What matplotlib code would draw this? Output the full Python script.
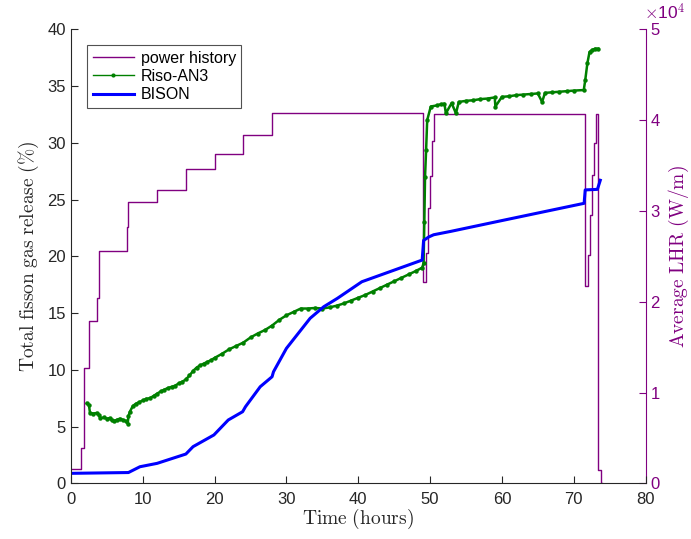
import matplotlib
matplotlib.use("Agg")
import matplotlib.pyplot as plt

plt.rcParams['mathtext.fontset'] = 'cm'
plt.rcParams['font.family'] = ['Liberation Sans', 'DejaVu Sans']

# ---- data ----
power_t = [0, 1.35, 1.86, 2.56, 3.58, 3.86, 3.95, 7.85, 8.0, 11.95, 16.0, 20.0, 24.0, 28.0,
           49.05, 49.5, 49.7, 49.95, 50.2, 50.5,
           71.6, 72.05, 72.3, 72.6, 72.85, 73.1, 73.45, 73.8, 74.0]
power_lhr = [1540, 3930, 12680, 17890, 20460, 23220, 25540, 28180, 30940, 32340, 34650, 36270, 38400, 40790,
             22120, 25360, 30320, 33800, 37660, 40720,
             21680, 25170, 29580, 33990, 37490, 40720, 1470, 0, 0]

riso_t = [2.2, 2.5, 2.65, 3.1, 3.6, 3.95, 4.1, 4.6, 5.0, 5.4, 5.7, 6.0, 6.4, 6.8, 7.2, 7.6, 7.9,
          8.0, 8.2, 8.6, 9.0, 9.5, 10.0, 10.5, 11.0, 11.5, 12.0, 12.5, 13.0, 13.5, 14.0, 14.5,
          15.0, 15.5, 16.0, 16.5, 17.0, 17.5, 18.0, 18.5, 19.0, 19.5, 20.0, 21.0, 22.0, 23.0,
          24.0, 25.0, 26.0, 27.0, 28.0, 29.0, 30.0, 31.0, 32.0, 33.0, 34.0, 35.0, 36.0, 37.0,
          38.0, 39.0, 40.0, 41.0, 42.0, 43.0, 44.0, 45.0, 46.0, 47.0, 48.0, 48.9, 49.1, 49.2,
          49.3, 49.45, 49.6, 50.1, 51.0, 51.5, 52.0, 52.2, 53.0, 53.6, 54.0, 55.0, 56.0, 57.0,
          58.0, 59.0, 59.1, 60.0, 61.0, 62.0, 63.0, 64.0, 65.0, 65.6, 66.0, 67.0, 68.0, 69.0,
          70.0, 71.4, 71.6, 71.9, 72.2, 72.6, 73.0, 73.4]
riso_fgr = [7.05, 6.9, 6.2, 6.15, 6.2, 6.0, 5.75, 5.8, 5.7, 5.75, 5.55, 5.5, 5.6, 5.7, 5.6, 5.5, 5.25,
            5.9, 6.3, 6.8, 7.0, 7.15, 7.3, 7.45, 7.5, 7.7, 7.9, 8.1, 8.25, 8.4, 8.5, 8.6,
            8.8, 8.95, 9.15, 9.5, 9.9, 10.2, 10.4, 10.55, 10.7, 10.85, 11.05, 11.4, 11.8, 12.1,
            12.4, 12.85, 13.2, 13.5, 13.9, 14.4, 14.8, 15.1, 15.4, 15.4, 15.45, 15.4, 15.5, 15.65,
            15.85, 16.1, 16.35, 16.6, 16.9, 17.2, 17.5, 17.8, 18.1, 18.4, 18.7, 19.0, 19.4, 23.0,
            27.0, 29.4, 32.0, 33.2, 33.3, 33.4, 33.45, 32.6, 33.5, 32.6, 33.6, 33.7, 33.75, 33.85,
            33.9, 34.0, 33.2, 34.05, 34.1, 34.2, 34.25, 34.3, 34.35, 33.6, 34.4, 34.45, 34.5, 34.55,
            34.6, 34.65, 35.5, 37.0, 38.0, 38.2, 38.3, 38.3]

bison_t = [0, 8.0, 9.6, 12.0, 16.0, 17.0, 19.9, 21.9, 23.9, 24.3, 26.35, 28.0, 28.2, 30.0, 33.3,
           35.2, 37.1, 40.5, 48.9, 49.1, 49.8, 50.5, 52.9, 60.0, 71.45, 71.6, 73.3, 73.7]
bison_fgr = [0.88, 0.95, 1.46, 1.76, 2.58, 3.23, 4.26, 5.58, 6.31, 6.75, 8.51, 9.39, 9.83, 11.89, 14.54,
             15.56, 16.3, 17.76, 19.67, 21.4, 21.7, 21.9, 22.2, 23.15, 24.67, 25.85, 25.9, 26.7]

left_ticks = [0, 5, 10, 15, 20, 25, 30, 35, 40]
right_ticks = [0, 10000, 20000, 30000, 40000, 50000]
right_labels = ['0', '1', '2', '3', '4', '5']
x_ticks = [0, 10, 20, 30, 40, 50, 60, 70, 80]

purple = '#800080'
green = '#008000'
dark = '#262626'

fig = plt.figure(figsize=(6.91, 5.39), dpi=100)
ax1 = fig.add_axes([0.1027, 0.1033, 0.8315, 0.8423])
ax2 = ax1.twinx()
ax1.set_zorder(ax2.get_zorder() + 1)
ax1.patch.set_visible(False)

lp, = ax2.step(power_t, power_lhr, where='post', color=purple, lw=1.0, label='power history')
lr, = ax1.plot(riso_t, riso_fgr, color=green, lw=1.8, marker='o', markersize=3.2,
               markeredgewidth=0, label='Riso-AN3')
lb, = ax1.plot(bison_t, bison_fgr, color='#0000ff', lw=2.2, label='BISON')

ax1.set_xlim(0, 80)
ax1.set_ylim(0, 40)
ax2.set_ylim(0, 50000)
ax1.set_xticks(x_ticks)
ax1.set_yticks(left_ticks)
ax2.set_yticks(right_ticks)
ax2.set_yticklabels(right_labels)

for ax in (ax1, ax2):
    ax.spines['top'].set_visible(False)
ax1.spines['left'].set_color(dark)
ax1.spines['bottom'].set_color(dark)
ax1.spines['right'].set_visible(False)
ax2.spines['left'].set_visible(False)
ax2.spines['bottom'].set_visible(False)
ax2.spines['right'].set_color(purple)

ax1.tick_params(axis='both', direction='in', length=5, labelsize=12, colors=dark, width=0.8)
ax1.tick_params(axis='x', pad=6)
ax2.tick_params(axis='y', direction='in', length=5, labelsize=12, colors=purple, width=0.8)

ax1.set_xlabel(r'$\mathrm{Time\ (hours)}$', fontsize=14, color=dark, labelpad=0)
ax1.set_ylabel(r'$\mathrm{Total\ fisson\ gas\ release\ (\%)}$', fontsize=14, color=dark, labelpad=5)
ax2.set_ylabel(r'$\mathrm{Average\ LHR\ (W/m)}$', fontsize=14, color=purple, labelpad=5)

fig.text(0.932, 0.978, r'$\times$10$^{4}$', color=purple, fontsize=12.5, ha='left', va='center',
         family='Liberation Sans')

leg = ax1.legend(handles=[lp, lr, lb], loc='upper left', bbox_to_anchor=(0.028, 0.965),
                 fontsize=11.5, frameon=True, fancybox=False, edgecolor=dark, numpoints=1,
                 handlelength=2.6, borderpad=0.35, labelspacing=0.2, handletextpad=0.4,
                 borderaxespad=0)
leg.get_frame().set_linewidth(0.8)
leg.get_lines()[1].set_linewidth(1.0)
leg.get_lines()[1].set_markersize(3)

fig.savefig('out.png', dpi=100)
